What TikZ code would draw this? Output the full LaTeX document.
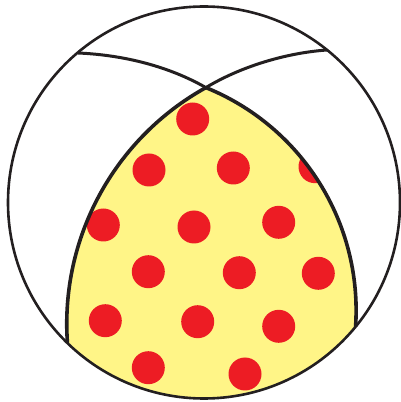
\documentclass[tikz,border=0pt]{standalone}
\usepackage{tikz}
\definecolor{beachyellow}{HTML}{FFF587}
\definecolor{dotred}{HTML}{ED1C24}
\definecolor{inkblack}{HTML}{231F20}

\begin{document}
\begin{tikzpicture}[x=1pt,y=1pt,
  rim/.style={inkblack,line width=2.6pt},
  plane/.style={inkblack,line width=3pt},
  lobeedge/.style={inkblack,line width=3.6pt}]
\useasboundingbox (0,0) rectangle (401,402);
\coordinate (O) at (204,199.5);
\coordinate (apex) at (205.9,314.4);
\coordinate (lefttop) at (78,349);
\coordinate (righttop) at (327,352);
% compressional lobe
\def\lobe{(apex) arc[start angle=119,end angle=184.1,radius=270.1pt]
  arc[start angle=225.9,end angle=320.6,radius=196pt]
  arc[start angle=-3.9,end angle=67.95,radius=240.5pt] -- cycle}
\fill[beachyellow] \lobe;
\begin{scope}
\clip \lobe;
\foreach \x/\y in {192.7/283,149/232,233.3/234,315/235.3,103.3/177,194/175,
  278.7/179.7,148.3/130.3,239.3/129.3,318.3/128.7,105.3/81.3,197.7/80.3,
  278.7/75.7,148.3/34.3,245/28}
  \fill[dotred] (\x,\y) circle[radius=16.5pt];
\end{scope}
\draw[rim] (O) circle[radius=196pt];
%\draw[rim] (lefttop) -- (righttop);
\draw[plane] (lefttop) .. controls (125,347) and (170,335) .. (apex);
\draw[plane] (righttop) .. controls (285,349) and (240,335) .. (apex);
\draw[lobeedge] (apex) arc[start angle=119,end angle=184.1,radius=270.1pt];
\draw[lobeedge] (apex) arc[start angle=67.95,end angle=-3.9,radius=240.5pt];
\end{tikzpicture}
\end{document}
